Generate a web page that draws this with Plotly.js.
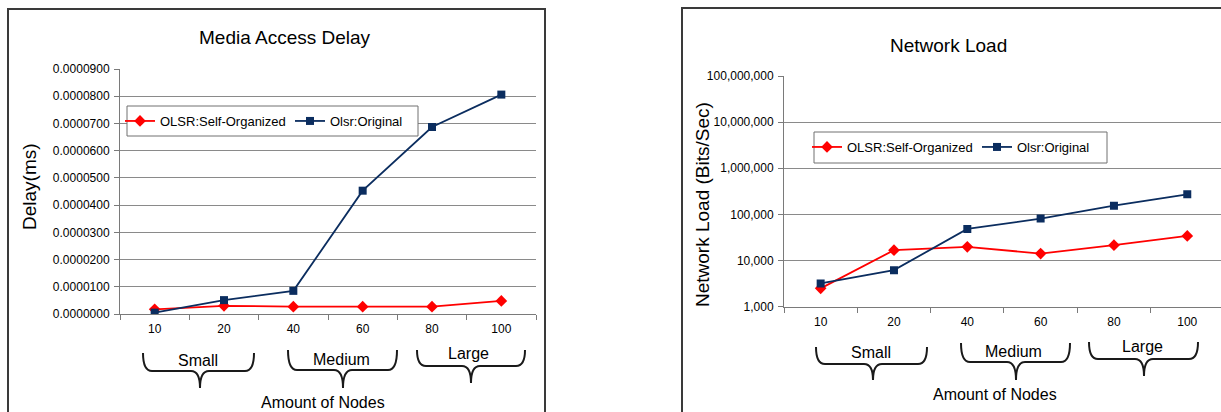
<!DOCTYPE html>
<html><head><meta charset="utf-8">
<script src="https://cdn.plot.ly/plotly-3.0.1.min.js"></script>
<style>html,body{margin:0;padding:0;background:#fff}#chart{width:1221px;height:412px}</style>
</head><body><div id="chart"></div>
<script>
// ---- data ----
const nodeCounts = ['10', '20', '40', '60', '80', '100'];
const seriesNames = ['OLSR:Self-Organized', 'Olsr:Original'];
const delaySelfOrganized = [0.0000017, 0.0000030, 0.0000027, 0.0000027, 0.0000027, 0.0000048];
const delayOriginal = [0.0000005, 0.0000051, 0.0000085, 0.0000453, 0.0000687, 0.0000806];
const loadSelfOrganized = [2500, 16800, 19800, 14200, 21500, 34200];
const loadOriginal = [3200, 6200, 48400, 81200, 155000, 272000];
const delayTickVals = [0, 0.00001, 0.00002, 0.00003, 0.00004, 0.00005, 0.00006, 0.00007, 0.00008, 0.00009];
const delayTickText = ['0.0000000', '0.0000100', '0.0000200', '0.0000300', '0.0000400', '0.0000500', '0.0000600', '0.0000700', '0.0000800', '0.0000900'];
const loadTickVals = [1e3, 1e4, 1e5, 1e6, 1e7, 1e8];
const loadTickText = ['1,000', '10,000', '100,000', '1,000,000', '10,000,000', '100,000,000'];
const sizeGroups = ['Small', 'Medium', 'Large'];
const chartTitles = ['Media Access Delay', 'Network Load'];
const yTitles = ['Delay(ms)', 'Network Load (Bits/Sec)'];
const xTitle = 'Amount of Nodes';

// ---- layout helpers ----
const W = 1221, H = 412;
const px = x => x / W;
const py = y => 1 - y / H;
const RED = '#ff0000', BLUE = '#0b2d5f', GRID = '#8a8a8a', AX = '#7a7a7a';
const FONT = 'Arial, "Liberation Sans", Helvetica, sans-serif';

function brace(b) {
  const r = 9;
  return `M${px(b.xl)},${py(b.yt)} Q${px(b.xl)},${py(b.yh)} ${px(b.xl + r)},${py(b.yh)} ` +
         `L${px(b.xc - r)},${py(b.yh)} Q${px(b.xc)},${py(b.yh)} ${px(b.xc)},${py(b.ytip)} ` +
         `Q${px(b.xc)},${py(b.yh)} ${px(b.xc + r)},${py(b.yh)} L${px(b.xr - r)},${py(b.yh)} ` +
         `Q${px(b.xr)},${py(b.yh)} ${px(b.xr)},${py(b.yt)}`;
}
const braceGeom = [
  {xl: 143, xr: 254, yt: 353, yh: 371, ytip: 388, xc: 200, tx: 198, ty: 360},
  {xl: 288, xr: 397, yt: 350, yh: 370, ytip: 388, xc: 343, tx: 341, ty: 359},
  {xl: 417, xr: 525, yt: 350, yh: 366, ytip: 383, xc: 471, tx: 468, ty: 353},
  {xl: 816, xr: 927, yt: 347, yh: 364, ytip: 380, xc: 873, tx: 871, ty: 352},
  {xl: 961, xr: 1070, yt: 343, yh: 362, ytip: 380, xc: 1016, tx: 1013, ty: 351},
  {xl: 1089, xr: 1198, yt: 342, yh: 359, ytip: 376, xc: 1144, tx: 1142, ty: 346}
];

const traces = [
  {x: nodeCounts, y: delaySelfOrganized, name: seriesNames[0], type: 'scatter', mode: 'lines+markers',
   xaxis: 'x', yaxis: 'y', legend: 'legend',
   line: {color: RED, width: 1.8}, marker: {symbol: 'diamond', size: 9, color: RED}},
  {x: nodeCounts, y: delayOriginal, name: seriesNames[1], type: 'scatter', mode: 'lines+markers',
   xaxis: 'x', yaxis: 'y', legend: 'legend',
   line: {color: BLUE, width: 1.8}, marker: {symbol: 'square', size: 8, color: BLUE}},
  {x: nodeCounts, y: loadSelfOrganized, name: seriesNames[0], type: 'scatter', mode: 'lines+markers',
   xaxis: 'x2', yaxis: 'y2', legend: 'legend2',
   line: {color: RED, width: 1.8}, marker: {symbol: 'diamond', size: 9, color: RED}},
  {x: nodeCounts, y: loadOriginal, name: seriesNames[1], type: 'scatter', mode: 'lines+markers',
   xaxis: 'x2', yaxis: 'y2', legend: 'legend2',
   line: {color: BLUE, width: 1.8}, marker: {symbol: 'square', size: 8, color: BLUE}}
];

const xBase = {
  type: 'category', tickson: 'boundaries', ticks: 'outside', ticklen: 5, tickcolor: AX,
  showline: true, linecolor: AX, linewidth: 1, showgrid: false, zeroline: false,
  tickfont: {size: 12, family: FONT, color: '#000'}, ticklabelstandoff: 4, fixedrange: true
};
const yBase = {
  ticks: 'outside', ticklen: 5, tickcolor: AX, showline: true, linecolor: AX, linewidth: 1,
  showgrid: true, gridcolor: GRID, gridwidth: 1, zeroline: false,
  tickfont: {size: 12, family: FONT, color: '#000'}, ticklabelstandoff: 2, fixedrange: true
};

const shapes = [
  {type: 'rect', xref: 'paper', yref: 'paper', x0: px(8), y0: py(9), x1: px(545), y1: py(430),
   line: {color: '#3a3a3a', width: 2}, fillcolor: 'rgba(0,0,0,0)', layer: 'below'},
  {type: 'rect', xref: 'paper', yref: 'paper', x0: px(682), y0: py(8), x1: px(1240), y1: py(430),
   line: {color: '#3a3a3a', width: 2}, fillcolor: 'rgba(0,0,0,0)', layer: 'below'},
  {type: 'rect', xref: 'paper', yref: 'paper', x0: px(127), y0: py(106), x1: px(418), y1: py(136),
   line: {color: '#707070', width: 1}, fillcolor: '#ffffff', layer: 'above'},
  {type: 'rect', xref: 'paper', yref: 'paper', x0: px(814), y0: py(132), x1: px(1107), y1: py(163),
   line: {color: '#707070', width: 1}, fillcolor: '#ffffff', layer: 'above'}
];
braceGeom.forEach(b => shapes.push({type: 'path', xref: 'paper', yref: 'paper', path: brace(b),
  line: {color: '#1a1a1a', width: 2}, layer: 'above'}));

const ann = (text, x, y, size, extra) => Object.assign({
  text, x: px(x), y: py(y), xref: 'paper', yref: 'paper', xanchor: 'center', yanchor: 'middle',
  showarrow: false, font: {size, family: FONT, color: '#000'}
}, extra || {});

const annotations = [
  ann(chartTitles[0], 285, 38, 19),
  ann(chartTitles[1], 948, 46, 19),
  ann(yTitles[0], 29, 187, 19, {textangle: -90}),
  ann(yTitles[1], 702, 205, 19, {textangle: -90}),
  ann(xTitle, 323, 402, 16),
  ann(xTitle, 995, 394, 16)
];
braceGeom.forEach((b, i) => annotations.push(ann(sizeGroups[i % 3], b.tx, b.ty, 16)));

const legendBase = {
  orientation: 'h', xanchor: 'left', yanchor: 'middle', bgcolor: 'rgba(0,0,0,0)', borderwidth: 0,
  font: {size: 13, family: FONT, color: '#000'}, entrywidth: 125, itemwidth: 30
};

const layout = {
  width: W, height: H, margin: {l: 0, r: 0, t: 0, b: 0},
  paper_bgcolor: '#ffffff', plot_bgcolor: 'rgba(0,0,0,0)',
  font: {family: FONT, color: '#000'},
  showlegend: true,
  xaxis: Object.assign({}, xBase, {domain: [px(120), px(536)], range: [-0.5, 5.5], anchor: 'y'}),
  yaxis: Object.assign({}, yBase, {domain: [py(314), py(69)], range: [0, 0.00009],
    tickvals: delayTickVals, ticktext: delayTickText, anchor: 'x'}),
  xaxis2: Object.assign({}, xBase, {domain: [px(784), 1], range: [-0.5, 5.46], anchor: 'y2'}),
  yaxis2: Object.assign({}, yBase, {type: 'log', domain: [py(306.7), py(76)], range: [3, 8],
    tickvals: loadTickVals, ticktext: loadTickText, anchor: 'x2'}),
  legend: Object.assign({}, legendBase, {x: px(120), y: py(121)}),
  legend2: Object.assign({}, legendBase, {x: px(807), y: py(147)}),
  shapes, annotations
};

Plotly.newPlot('chart', traces, layout, {displayModeBar: false, staticPlot: true});
</script>
</body></html>
